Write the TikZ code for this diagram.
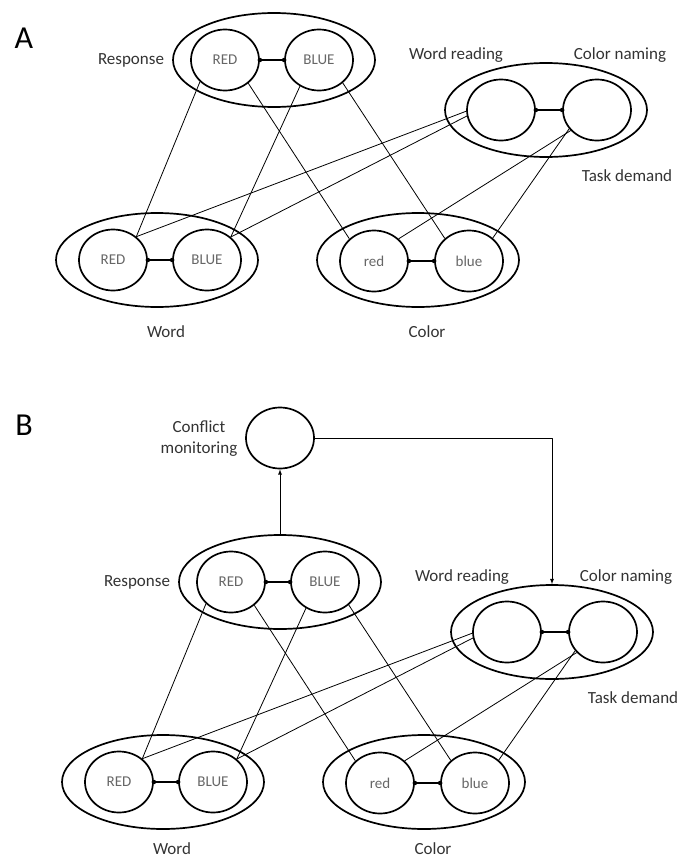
\documentclass[tikz,border=0pt]{standalone}
\usepackage{fontspec}
\setmainfont{Carlito}
\usetikzlibrary{shapes.geometric}
\begin{document}
\begin{tikzpicture}[x=1pt,y=-1pt,>=latex,line join=bevel,
  group/.style={draw,ellipse,line width=1.7pt,minimum width=202pt,minimum height=94pt,inner sep=0pt},
  unit/.style={draw,ellipse,line width=1.7pt,minimum width=68pt,minimum height=61pt,inner sep=0pt,
    text=black!60,font=\fontsize{15}{15}\selectfont},
  tag/.style={text=black!80,font=\fontsize{17}{21}\selectfont,align=center,inner sep=1pt},
  panel/.style={font=\fontsize{32}{32}\selectfont},
  link/.style={line width=0.8pt},
  bond/.style={line width=1.7pt}]
  \useasboundingbox (0,0) rectangle (682,862);
%%
  % Panel A
  \node[panel] (labA) at (24,38) {A};
  % Node: Response
  \node[group] (aResp) at (274,60) {};
  \node[unit] (aRespRed) at (225,60) {RED};
  \node[unit] (aRespBlue) at (319,60) {BLUE};
  \node[tag] (aRespTag) at (131,60) {Response};
  % Node: Task demand
  \node[group] (aTask) at (546,110) {};
  \node[unit] (aRead) at (501,110) {};
  \node[unit] (aName) at (597,110) {};
  \node[tag] (aReadTag) at (456,55) {Word reading};
  \node[tag] (aNameTag) at (620,55) {Color naming};
  \node[tag] (aTaskTag) at (627,176) {Task demand};
  % Node: Word
  \node[group] (aWord) at (157,260) {};
  \node[unit] (aWordRed) at (113,260) {RED};
  \node[unit] (aWordBlue) at (207,260) {BLUE};
  \node[tag] (aWordTag) at (166,332) {Word};
  % Node: Color
  \node[group] (aColor) at (418,260) {};
  \node[unit] (aColRed) at (374,261) {red};
  \node[unit] (aColBlue) at (469,261) {blue};
  \node[tag] (aColorTag) at (427,332) {Color};
  % Edges
  \draw[link] (aRespRed.221) -- (aWordRed.45);
  \draw[link] (aRespRed.315) -- (aColRed.138);
  \draw[link] (aRespBlue.234) -- (aWordBlue.44);
  \draw[link] (aRespBlue.316) -- (aColBlue.137);
  \draw[link] (aRead.182) -- (aWordRed.45);
  \draw[link] (aRead.190) -- (aWordBlue.44);
  \draw[link] (aName.218) -- (aColRed.42);
  \draw[link] (aName.214) -- (aColBlue.44);
  % Bonds
  \draw[bond] (aRespRed.east) -- (aRespBlue.west);
  \fill (aRespRed.east) circle (2.3) (aRespBlue.west) circle (2.3);
  \draw[bond] (aRead.east) -- (aName.west);
  \fill (aRead.east) circle (2.3) (aName.west) circle (2.3);
  \draw[bond] (aWordRed.east) -- (aWordBlue.west);
  \fill (aWordRed.east) circle (2.3) (aWordBlue.west) circle (2.3);
  \draw[bond] (aColRed.east) -- (aColBlue.west);
  \fill (aColRed.east) circle (2.3) (aColBlue.west) circle (2.3);
%%
  % Panel B
  \node[panel] (labB) at (24,425) {B};
  % Node: Conflict monitoring
  \node[unit] (bMonitor) at (280,438) {};
  \node[tag] (bMonitorTag) at (199,439) {Conflict\\monitoring};
  % Node: Response
  \node[group] (bResp) at (280,582) {};
  \node[unit] (bRespRed) at (231,582) {RED};
  \node[unit] (bRespBlue) at (325,582) {BLUE};
  \node[tag] (bRespTag) at (137,582) {Response};
  % Node: Task demand
  \node[group] (bTask) at (552,632) {};
  \node[unit] (bRead) at (507,632) {};
  \node[unit] (bName) at (603,632) {};
  \node[tag] (bReadTag) at (462,577) {Word reading};
  \node[tag] (bNameTag) at (626,577) {Color naming};
  \node[tag] (bTaskTag) at (633,698) {Task demand};
  % Node: Word
  \node[group] (bWord) at (163,782) {};
  \node[unit] (bWordRed) at (119,782) {RED};
  \node[unit] (bWordBlue) at (213,782) {BLUE};
  \node[tag] (bWordTag) at (172,849) {Word};
  % Node: Color
  \node[group] (bColor) at (424,782) {};
  \node[unit] (bColRed) at (380,783) {red};
  \node[unit] (bColBlue) at (475,783) {blue};
  \node[tag] (bColorTag) at (433,849) {Color};
  % Edges
  \draw[link] (bRespRed.221) -- (bWordRed.45);
  \draw[link] (bRespRed.315) -- (bColRed.138);
  \draw[link] (bRespBlue.234) -- (bWordBlue.44);
  \draw[link] (bRespBlue.316) -- (bColBlue.137);
  \draw[link] (bRead.182) -- (bWordRed.45);
  \draw[link] (bRead.190) -- (bWordBlue.44);
  \draw[link] (bName.218) -- (bColRed.42);
  \draw[link] (bName.214) -- (bColBlue.44);
  % Edge: Response -> Conflict monitoring -> Task demand
  \draw[link,->] (bResp.north) -- (bMonitor.south);
  \draw[link,->] (bMonitor.east) -| (bTask.north);
  % Bonds
  \draw[bond] (bRespRed.east) -- (bRespBlue.west);
  \fill (bRespRed.east) circle (2.3) (bRespBlue.west) circle (2.3);
  \draw[bond] (bRead.east) -- (bName.west);
  \fill (bRead.east) circle (2.3) (bName.west) circle (2.3);
  \draw[bond] (bWordRed.east) -- (bWordBlue.west);
  \fill (bWordRed.east) circle (2.3) (bWordBlue.west) circle (2.3);
  \draw[bond] (bColRed.east) -- (bColBlue.west);
  \fill (bColRed.east) circle (2.3) (bColBlue.west) circle (2.3);
%
\end{tikzpicture}
\end{document}
